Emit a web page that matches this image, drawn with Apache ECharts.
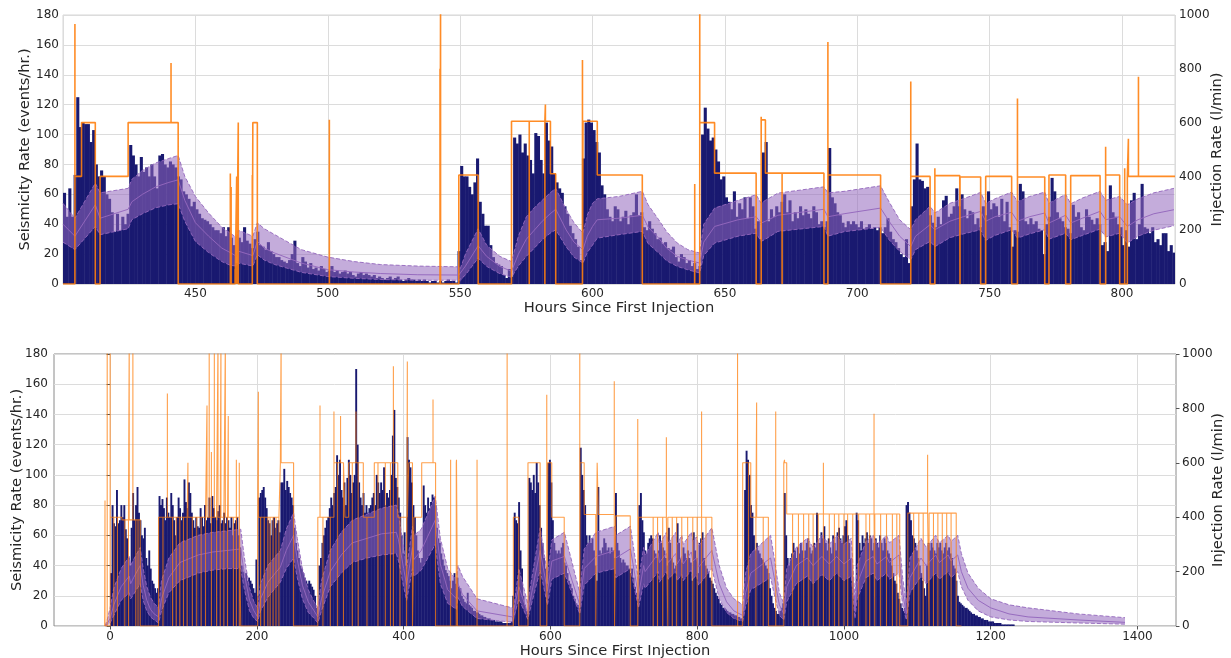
<!DOCTYPE html>
<html><head><meta charset="utf-8">
<script src="https://cdn.jsdelivr.net/npm/echarts@6/dist/echarts.min.js"></script>
<style>html,body{margin:0;padding:0;background:#fff}#c{width:1231px;height:658px}</style>
</head><body><div id="c"></div>
<script>
// ---------------- TOP PANEL DATA (hours 400-820) ----------------
const topBarStart = 400, topBarStep = 1;
const topBars = [
61,45,64,45,73,125,105,108,107,107,
95,103,80,72,76,72,60,57,48,35,
47,36,45,40,47,93,86,80,72,85,
75,78,72,80,72,64,86,87,80,78,
82,80,78,72,70,62,60,57,52,55,
50,47,44,43,42,40,38,36,36,34,
38,32,38,31,26,14,31,28,38,29,
27,24,30,35,26,25,23,28,22,20,
18,18,16,15,14,16,20,29,14,12,
18,15,11,14,10,11,9,12,10,8,
9,12,8,9,7,8,9,7,8,6,
5,7,8,6,7,6,5,6,4,5,
4,3,4,5,3,4,5,3,2,3,
4,3,3,2,3,2,3,2,1,2,
2,1,2,1,2,3,2,2,1,22,
79,72,72,65,60,68,84,55,47,39,
39,26,18,14,13,12,6,4,10,5,
98,94,100,88,94,86,83,74,101,99,
83,74,108,96,92,74,68,64,61,52,
47,39,34,30,25,16,84,108,110,108,
103,95,88,66,60,50,45,42,52,50,
42,45,49,40,46,48,60,46,48,38,
36,42,37,34,30,31,27,28,24,23,
25,18,15,20,18,14,16,12,14,10,
12,100,118,104,96,98,90,82,70,72,
58,55,50,62,45,54,50,58,44,58,
52,37,42,30,88,95,42,50,45,52,
48,55,60,48,56,42,48,44,52,46,
50,47,44,52,48,40,42,38,42,91,
58,54,48,46,41,38,42,40,42,40,
38,42,37,38,40,37,38,36,38,34,
38,44,35,30,28,24,20,18,30,14,
52,70,94,70,69,64,65,46,41,38,
45,40,56,59,45,47,52,64,52,60,
50,44,49,48,40,44,38,52,46,62,
50,54,52,45,57,42,55,38,25,36,
35,67,62,42,40,44,40,42,37,36,
20,40,45,71,62,48,44,42,38,37,
34,53,45,48,38,36,50,45,43,40,
44,40,26,28,22,66,48,45,40,38,
26,36,25,56,61,30,40,67,38,37,
34,38,28,30,26,34,34,22,26,21
];
const topBandT = [400,404.5,412.2,414,424.6,426,430,435,440,443.5,446,450,455,460,463.2,465.6,466.2,471.7,473.4,476,480,490,500,510,520,534,549.5,550,552,556.8,560,565,569.4,572,575,578,581,584,586.1,590,593,596.4,598,600,601.8,610,618.8,621,625,628,632,636,640.5,642,646.1,655,661.8,663.7,665.3,670,687.4,688.9,695,708.8,712,716,720.2,722,727.5,729.3,735,740,746.6,748.5,752,758.3,760.5,765,770.8,772.4,778.7,780.6,785,791.7,793.8,799.1,802,806,812,819.6];
const topBandHi = [54,44,67.5,61,64,70,76,81,84,86,72,58.6,47.5,38,34,31,36,32,41,37,33,23,18,15,13,12,11.5,10,20,37,26,18.5,15,32,45,51,56,61,64,50,41,34,46,54,57,58.6,62,53,43,35,27.4,23,20.7,40,50.8,56,59.7,54,56,60.8,65,61,62,65.7,55,43,36.3,43,52,47.5,54,57,61.3,54,57,61.5,55,58.5,61.5,54,60,53.7,57.5,62,56,58.6,53,57,61,64];
const topBandMid = [40,32,53,44,50,55,60,65,68,69.7,56,41,32,24,21,18.5,22,19,28.5,24,20.7,14,9.6,8,7,6.2,6,5,12,25.6,18.5,11.8,8.5,20,30,36,42,47,50,36.3,28,23,32,38.5,43,44,46,38,30.7,24,18.5,16,14,28,38.5,43,45,40.8,42,46,50,45,47,50.8,42,32,25,32,39.7,36.3,42,45,48.6,42,45,48,42,45,47.5,40.8,46,40.8,44,48.6,43,45,38.5,43,47,49.7];
const topBandLo = [28,23,38.5,33,37,43,47,51,53,53.7,42,28.5,21,15,12.5,12,14,12,19.6,16,13,7.8,5,3.8,3,2.5,2.5,1.5,6,17.4,11.8,6.9,4.5,12,18.5,24,29.6,34,36.3,25,18,14,21,26,30.7,33,35.2,27,20.7,15.5,11.8,9.5,7.4,19,27.4,32,34,28.5,30,35.2,38.5,32,35,37.9,29.6,21.8,16.3,23,28.5,25,31,33.5,36.3,29.2,32.5,36.3,30.7,33.5,36.3,30,34,29.6,32.5,36.8,31.5,34,27.4,32,36,39];
// injection: [start, end, rate l/min]
const topInjSegments = [[400,404.5,0],[404.5,407,400],[407,412.2,600],[412.2,414,0],[414,424.6,400],[424.6,443.5,600],[443.5,471.7,0],[471.7,473.4,600],[473.4,549.5,0],[549.5,556.8,405],[556.8,569.4,0],[569.4,584.1,605],[584.1,586.1,410],[586.1,596.4,0],[596.4,601.8,605],[601.8,618.8,405],[618.8,640.5,0],[640.5,646.1,600],[646.1,661.8,412],[661.8,663.7,0],[663.7,665.3,610],[665.3,687.4,412],[687.4,688.9,0],[688.9,708.8,405],[708.8,720.2,0],[720.2,727.5,400],[727.5,729.3,0],[729.3,738.7,403],[738.7,746.6,398],[746.6,748.5,0],[748.5,758.3,400],[758.3,760.5,0],[760.5,770.8,398],[770.8,772.4,0],[772.4,778.7,405],[778.7,780.6,0],[780.6,791.7,403],[791.7,793.8,0],[793.8,799.1,405],[799.1,802,0],[802,820,400]];
const topInjSpikes = [[404.5,967],[440.8,822],[463.2,411],[463.5,361],[465,55],[465.6,400],[466.2,600],[471.5,405],[500.6,611],[542.4,800],[542.6,1050],[582.2,667],[596.2,833],[638.6,372],[640.5,1050],[663.7,622],[688.9,900],[720.2,753],[729.3,430],[760.5,690],[793.8,510],[801,430],[802.4,540],[806.2,770]];
const topInjPauses = [576.1,582.0,671.6,738.8];

// ---------------- BOTTOM PANEL DATA (hours -7 - 1383) ----------------
const botBarStart = 0, botBarStep = 2;
const botBars = [
35,80,68,66,90,68,70,80,72,80,64,58,45,40,65,88,70,80,92,75,70,60,58,65,45,
40,50,38,30,28,25,22,25,86,80,84,78,70,85,75,72,88,80,70,60,72,85,78,70,75,
97,82,78,95,88,75,70,65,72,66,65,78,72,66,80,70,72,85,68,86,78,72,70,76,80,
68,70,75,68,72,70,65,72,60,68,70,72,60,52,40,36,32,35,30,32,30,28,25,22,44,
20,85,88,90,92,85,78,70,68,60,70,72,65,68,70,62,95,95,104,90,96,92,88,85,80,
65,55,50,45,40,38,35,32,30,28,30,28,26,24,20,12,8,40,45,55,60,65,70,72,78,
85,80,88,92,113,100,110,90,85,95,80,98,110,100,88,95,100,170,120,95,85,80,88,75,80,
75,78,80,85,88,80,100,95,88,95,90,105,80,88,85,90,100,126,143,98,92,85,75,60,48,
62,40,125,110,105,95,80,72,60,50,45,42,45,93,80,75,85,78,82,87,85,80,65,58,55,
48,44,40,37,35,33,30,25,30,35,28,32,26,25,20,18,16,15,22,14,13,12,10,10,9,
9,8,7,7,6,6,5,5,5,4,4,4,3,3,3,3,3,2,2,2,2,2,2,3,20,
75,70,68,82,50,38,20,14,10,8,98,95,90,100,88,108,95,80,65,55,45,38,28,108,110,
95,70,55,50,48,50,48,52,55,42,40,35,30,28,25,20,18,15,14,12,118,100,90,80,60,
55,60,55,58,50,40,30,92,50,48,52,58,55,50,52,48,52,50,45,88,55,50,45,42,44,
42,40,40,38,35,38,32,26,22,18,80,88,70,62,50,48,55,58,60,58,50,48,45,50,60,
55,52,50,45,40,65,55,45,42,38,40,68,55,45,42,52,48,45,50,45,42,30,62,50,45,
35,55,58,62,45,40,38,36,32,30,28,25,22,20,18,15,14,12,12,11,10,9,9,8,8,
7,7,6,6,5,5,10,90,116,110,100,80,75,60,50,55,50,48,45,44,42,40,38,35,25,
20,15,12,10,8,8,10,12,15,88,60,45,40,45,48,55,50,45,52,48,55,50,45,50,55,
58,52,48,50,55,52,75,55,55,62,58,66,55,50,58,52,48,60,55,50,62,65,58,55,60,
66,70,60,55,45,30,20,15,75,70,55,50,60,55,58,62,55,60,58,50,55,58,55,52,60,
55,50,58,55,50,48,45,40,35,30,28,22,18,15,12,10,12,80,82,75,70,60,58,55,50,
45,40,35,30,25,20,40,55,50,55,52,50,48,55,52,55,50,48,52,55,50,52,48,45,40,
38,30,20,16,15,14,13,12,12,11,10,9,8,8,7,7,6,6,5,5,4,4,4,3,3,
3,3,2,2,2,2,2,1,1,1,1,1,1,1,1,1
];
const botBandT = [-7,-4,0,5,15,26,28,32,41,45,50,55,60,66,70,80,95,110,120,140,160,178,183,190,196,201,205,215,225,232,240,250,255,262,270,278,283,288,300,315,330,350,370,390,393,400,404,412,414,424,443,450,460,466,472,474,480,500,548,549.5,557,569,586,596,602,619,640,646,662,688,689,709,720,727,729,747,748.5,758,760.5,771,772.5,779,781,792,794,799,802,820,830,840,850,862,866,873,900,905,912,918,922,935,950,958,970,980,990,1000,1010,1015,1018,1030,1040,1045,1058,1062,1075,1080,1085,1090,1105,1112,1125,1130,1142,1146,1155,1160,1169,1183,1200,1225,1251,1319,1383];
const botBandHi = [0,4,12,25,38,46,40,44,52,38,26,19,15,12,30,45,55,58,60,62,63,64,45,25,16,12,28,40,46,50,64,75,58,38,24,16,12,30,50,62,70,74,78,80,74,52,38,66,60,64,86,58,38,34,30,40,33,18,12,10,38,15,65,34,57,62,22,51,62,66,60,66,30,52,47,62,54,62,55,62,54,60,54,62,56,59,53,65,40,25,18,14,35,48,60,45,22,15,38,52,58,52,60,54,60,54,58,18,40,56,60,54,60,55,60,32,15,45,58,52,60,55,60,56,60,48,35,25,18,14,12,8,5.5];
const botBandMid = [0,1.5,5,14,26,33,28,32,40,27,17,11,8,6,18,32,42,45,47,49,50,51,34,17,10,6,18,29,35,39,50,60,44,27,16,10,6,18,36,47,55,58,61,62,57,38,27,52,44,50,70,41,24,21,18,28,21,10,6,5,26,8.5,50,23,43,46,14,38,46,50,45,51,20,40,36,48,42,48,42,48,41,46,41,49,43,45,39,50,28,16,10,7,22,35,45,32,14,8,26,40,45,40,46,41,46,41,45,10,28,43,46,41,46,42,47,22,8,32,45,40,47,42,47,43,47,36,25,17,12,8,6,4,2.4];
const botBandLo = [0,0.5,2,7,17,22,18,21,28,17,10,6,4,2,10,22,30,33,35,37,38,38,24,10,5,3,10,19,25,29,38,45,32,18,9,5,2,10,26,35,42,45,47,48,43,26,17,38,33,37,54,28,15,13,11,19,13,5,2.5,1.5,18,4.5,37,14,31,35,8,27,35,38,32,38,12,28,25,36,29,36,31,36,30,34,30,37,31,34,27,38,18,9,5,3,13,24,32,21,7,4,16,28,33,28,34,30,35,30,33,5,18,32,35,30,35,31,35,14,4,22,33,28,35,31,36,32,36,26,17,10,6,4,3,2,1.2];
const botInjSegments = [[-7.5,0,0],[0,16,400],[16,41,390],[41,66,0],[66,178,400],[178,201,0],[201,232,400],[232,250,600],[250,283,0],[283,305,400],[305,320,600],[320,325,400],[325,345,600],[345,360,400],[360,392,600],[392,404,400],[404,404.5,0],[404.5,407,400],[407,412,600],[412,414,0],[414,424.6,400],[424.6,443.5,600],[443.5,471.7,0],[471.7,473.4,600],[473.4,549.5,0],[549.5,556.8,400],[556.8,569.4,0],[569.4,586,600],[586,596.4,0],[596.4,601.8,600],[601.8,618.8,400],[618.8,640.5,0],[640.5,646,600],[646,661.8,410],[661.8,663.7,0],[663.7,665.3,600],[665.3,687.4,410],[687.4,688.9,0],[688.9,708.8,405],[708.8,720.2,0],[720.2,820,400],[820,862,0],[862,873,600],[873,897,400],[897,918,0],[918,922,600],[922,1076,412],[1076,1087,0],[1087,1153,415],[1153,1160,0]];
const botInjSpikes = [[-7,461],[-4,1050],[0,1050],[26,1050],[31,1050],[78,855],[106,600],[132,811],[135,1050],[138,640],[142,1050],[147,1050],[151,1050],[157,1050],[161,772],[172,611],[176,600],[202,861],[233,1050],[286,811],[305,789],[314,772],[335,789],[386,955],[405,972],[440,833],[464,611],[472,611],[500,611],[541,1050],[595,850],[640,1050],[687,900],[719,761],[758,694],[806,789],[855,1050],[881,822],[907,789],[919,611],[972,600],[1041,780],[1114,630]];
const botInjPauses = [5,10,20,25,35,38,72,85,90,95,100,105,112,118,124,130,138,145,150,155,160,168,172,176,205,210,215,218,222,226,230,290,300,310,318,330,338,350,365,375,382,386,395,740,746,753,760,766,772,779,787,794,800,806,812,870,880,890,930,938,945,952,958,965,972,980,987,993,1000,1005,1012,1020,1030,1035,1042,1050,1058,1066,1072,1095,1102,1108,1116,1122,1128,1134,1140,1146];
const botXTicks = [0, 200, 400, 600, 800, 1000, 1200, 1400];

// ---------------- helpers ----------------
function buildInj(segs, spikes, pauses) {
  const ev = spikes.concat(pauses.map(t => [t, 0])).sort((a, b) => a[0] - b[0]);
  const pts = [];
  segs.forEach(([s, e, r]) => {
    pts.push([s, r]);
    ev.filter(p => p[0] >= s && p[0] < e).forEach(p => { pts.push([p[0], r], [p[0], p[1]], [p[0], r]); });
    pts.push([e, r]);
  });
  return pts;
}
function barData(start, step, vals) { return vals.map((v, i) => [start + i * step, v, step]); }
function pairs(t, v) { return t.map((x, i) => [x, v[i]]); }
const plain = v => String(Math.round(v * 100) / 100);

const NAVY = '#191970', PURPLE = '#9467bd', ORANGE = '#ff7f0e';
const FONT = 'DejaVu Sans', TXT = '#262626';

function barSeries(xi, yi, data) {
  return {
    type: 'custom', xAxisIndex: xi, yAxisIndex: yi, z: 1, silent: true, clip: true,
    encode: { x: 0, y: 1 }, data: data,
    renderItem: function (params, api) {
      const t = api.value(0), v = api.value(1), w = api.value(2);
      const p0 = api.coord([t, v]), p1 = api.coord([t + w, 0]);
      return { type: 'rect', shape: { x: p0[0], y: p0[1], width: p1[0] - p0[0] + 0.45, height: p1[1] - p0[1] }, style: { fill: NAVY } };
    }
  };
}
function bandSeries(xi, yi, t, hi, lo) {
  return {
    type: 'custom', xAxisIndex: xi, yAxisIndex: yi, z: 2, silent: true, clip: true,
    encode: { x: 0, y: 1 }, data: [[t[0], 0]],
    renderItem: function (params, api) {
      const pts = [];
      for (let i = 0; i < t.length; i++) pts.push(api.coord([t[i], hi[i]]));
      for (let i = t.length - 1; i >= 0; i--) pts.push(api.coord([t[i], lo[i]]));
      return { type: 'polygon', shape: { points: pts }, style: { fill: 'rgba(148,103,189,0.55)' } };
    }
  };
}
function lineSeries(xi, yi, data, style, z) {
  return { type: 'line', xAxisIndex: xi, yAxisIndex: yi, data: data, symbol: 'none', showSymbol: false, silent: true, z: z, lineStyle: style, clip: true };
}
function leftAxis(gi, ticks) {
  return {
    type: 'value', gridIndex: gi, min: 0, max: 180, interval: 20, position: 'left',
    name: 'Seismicity Rate (events/hr.)', nameLocation: 'middle', nameRotate: 90, nameGap: gi === 0 ? 30 : 29,
    nameMoveOverlap: false,
    nameTextStyle: { fontFamily: FONT, fontSize: 14.67, color: TXT },
    axisLine: { show: false }, axisTick: { show: ticks, length: 3.5, lineStyle: { color: '#555' } },
    axisLabel: { fontFamily: FONT, fontSize: 12, color: TXT, margin: ticks ? 6 : 4, formatter: plain },
    splitLine: { show: true, lineStyle: { color: '#dcdcdc', width: 1 } }
  };
}
function rightAxis(gi, ticks) {
  return {
    type: 'value', gridIndex: gi, min: 0, max: 1000, interval: 200, position: 'right',
    name: 'Injection Rate (l/min)', nameLocation: 'middle', nameRotate: 90, nameGap: 35,
    nameMoveOverlap: false,
    nameTextStyle: { fontFamily: FONT, fontSize: 14.67, color: TXT },
    axisLine: { show: false }, axisTick: { show: ticks, length: 3.5, lineStyle: { color: '#555' } },
    axisLabel: { fontFamily: FONT, fontSize: 12, color: TXT, margin: ticks ? 6 : 4, formatter: plain },
    splitLine: { show: false }
  };
}

const option = {
  animation: false,
  backgroundColor: '#ffffff',
  grid: [
    { left: 63, right: 56, top: 15, height: 269, show: true, borderColor: '#d6d6d6', borderWidth: 1, backgroundColor: 'transparent', containLabel: false, outerBoundsMode: 'none' },
    { left: 54, right: 55, top: 354, height: 272, show: true, borderColor: '#8a8a8a', borderWidth: 1, backgroundColor: 'transparent', containLabel: false, outerBoundsMode: 'none' }
  ],
  xAxis: [
    {
      type: 'value', gridIndex: 0, min: 400, max: 820, interval: 50,
      name: 'Hours Since First Injection', nameLocation: 'middle', nameGap: 17,
      nameTextStyle: { fontFamily: FONT, fontSize: 14.67, color: TXT },
      axisLine: { show: false }, axisTick: { show: false },
      axisLabel: { fontFamily: FONT, fontSize: 12, color: TXT, margin: 4, showMinLabel: false, showMaxLabel: false, formatter: plain },
      splitLine: { show: true, lineStyle: { color: '#dcdcdc', width: 1 } }
    },
    {
      type: 'value', gridIndex: 1, min: -76.5, max: 1452.5,
      name: 'Hours Since First Injection', nameLocation: 'middle', nameGap: 18,
      nameTextStyle: { fontFamily: FONT, fontSize: 14.67, color: TXT },
      axisLine: { show: false },
      axisTick: { show: true, length: 3.5, lineStyle: { color: '#555' }, customValues: botXTicks },
      axisLabel: { fontFamily: FONT, fontSize: 12, color: TXT, margin: 5, customValues: botXTicks, formatter: plain },
      splitLine: { show: true, lineStyle: { color: '#dcdcdc', width: 1 } }
    }
  ],
  yAxis: [leftAxis(0, false), rightAxis(0, false), leftAxis(1, true), rightAxis(1, true)],
  series: [
    barSeries(0, 0, barData(topBarStart, topBarStep, topBars)),
    bandSeries(0, 0, topBandT, topBandHi, topBandLo),
    lineSeries(0, 0, pairs(topBandT, topBandHi), { color: PURPLE, width: 1, type: [4, 2], opacity: 0.9 }, 3),
    lineSeries(0, 0, pairs(topBandT, topBandLo), { color: PURPLE, width: 1, type: [4, 2], opacity: 0.9 }, 3),
    lineSeries(0, 0, pairs(topBandT, topBandMid), { color: PURPLE, width: 1, opacity: 0.95 }, 3),
    lineSeries(0, 1, buildInj(topInjSegments, topInjSpikes, topInjPauses), { color: ORANGE, width: 1.6, opacity: 0.9 }, 4),

    barSeries(1, 2, barData(botBarStart, botBarStep, botBars)),
    bandSeries(1, 2, botBandT, botBandHi, botBandLo),
    lineSeries(1, 2, pairs(botBandT, botBandHi), { color: PURPLE, width: 1, type: [4, 2], opacity: 0.9 }, 3),
    lineSeries(1, 2, pairs(botBandT, botBandLo), { color: PURPLE, width: 1, type: [4, 2], opacity: 0.9 }, 3),
    lineSeries(1, 2, pairs(botBandT, botBandMid), { color: PURPLE, width: 1, opacity: 0.95 }, 3),
    lineSeries(1, 3, buildInj(botInjSegments, botInjSpikes, botInjPauses), { color: ORANGE, width: 1.1, opacity: 0.75 }, 4)
  ]
};
const chart = echarts.init(document.getElementById('c'), null, { renderer: 'canvas' });
chart.setOption(option);
</script></body></html>
